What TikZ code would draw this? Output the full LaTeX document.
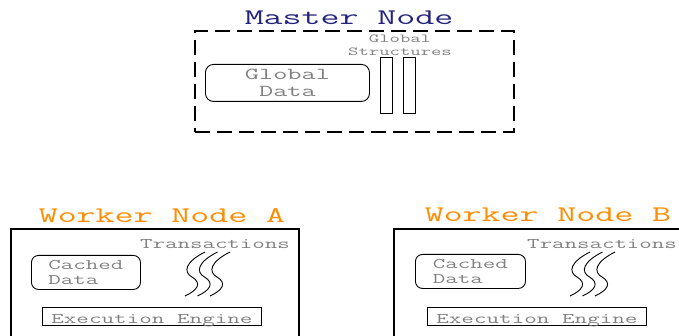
\documentclass[tikz,border=0pt]{standalone}
\usepackage{fontspec}
\usepackage{tikz}
\usetikzlibrary{positioning}
\newfontfamily\diagfont[FakeStretch=1.65]{Latin Modern Mono}
\definecolor{masternavy}{RGB}{35,35,125}
\definecolor{workerorange}{RGB}{255,140,0}
\definecolor{labelgray}{RGB}{128,128,128}

\begin{document}
\begin{tikzpicture}[
        x=1pt, y=-1pt,
        title/.style={anchor=base, inner sep=0pt, font=\diagfont\fontsize{22.3}{24}\selectfont},
        masterframe/.style={draw, line width=1.8pt, dash pattern=on 15pt off 7pt, anchor=north west, minimum width=319pt, minimum height=101pt},
        workerframe/.style={draw, line width=1.8pt, anchor=north west, minimum width=288pt, minimum height=130pt},
        blob/.style={draw, line width=0.9pt, rounded corners=8pt, anchor=north west, text=labelgray},
        bar/.style={draw, line width=0.9pt, anchor=north west, minimum width=12pt, minimum height=56pt, inner sep=0pt},
        enginebox/.style={draw, line width=0.9pt, anchor=north west, minimum width=219pt, inner ysep=0pt, text height=16pt, text depth=2pt, text=labelgray, font=\diagfont\fontsize{14.8}{15}\selectfont},
        txtlabel/.style={anchor=base, inner sep=0pt, text=labelgray, font=\diagfont\fontsize{14.7}{15}\selectfont},
        wave/.style={line width=0.9pt}
    ]
        \useasboundingbox (0,0) rectangle (679,336);

        % master node
        \node[title, text=masternavy] (mastertitle) at (349,25) {Master Node};
        \node[masterframe] (master) at (194,30) {};
        \node[blob, minimum width=164pt, minimum height=37pt, align=center, font=\diagfont\fontsize{16.7}{17}\selectfont] (globaldata) at (205,64) {Global\\Data};
        \node[bar] (barone) at (380,57) {};
        \node[bar, right=10pt of barone] (bartwo) {};
        \node[align=center, inner sep=0pt, text=labelgray, font=\diagfont\fontsize{12.2}{13}\selectfont] (structlabel) at (400,45) {Global\\Structures};

        % worker node A
        \node[title, text=workerorange] (titlea) at (162,223) {Worker Node A};
        \node[workerframe] (workera) at (10,228) {};
        \node[txtlabel] (transa) at (215,249) {Transactions};
        \node[blob, minimum width=109pt, minimum height=34pt, rounded corners=7pt, align=left, font=\diagfont\fontsize{14.7}{15}\selectfont] (cacheda) at (31,255) {Cached\\Data};
        \node[enginebox] (enginea) at (42,307) {Execution Engine};
        \foreach \dx in {0,12.5,25}
            \draw[wave] (205+\dx,252) .. controls (185+\dx,262) and (183+\dx,272) .. (192+\dx,277) .. controls (202+\dx,283) and (198+\dx,290) .. (185+\dx,296);

        % worker node B
        \node[title, text=workerorange] (titleb) at (548,222) {Worker Node B};
        \node[workerframe] (workerb) at (393,228) {};
        \node[txtlabel] (transb) at (602,249) {Transactions};
        \node[blob, minimum width=110pt, minimum height=34pt, rounded corners=7pt, align=left, font=\diagfont\fontsize{14.7}{15}\selectfont] (cachedb) at (415,254) {Cached\\Data};
        \node[enginebox] (engineb) at (427,307) {Execution Engine};
        \foreach \dx in {385,397.5,410}
            \draw[wave] (205+\dx,252) .. controls (185+\dx,262) and (183+\dx,272) .. (192+\dx,277) .. controls (202+\dx,283) and (198+\dx,290) .. (185+\dx,296);
    \end{tikzpicture}
\end{document}
